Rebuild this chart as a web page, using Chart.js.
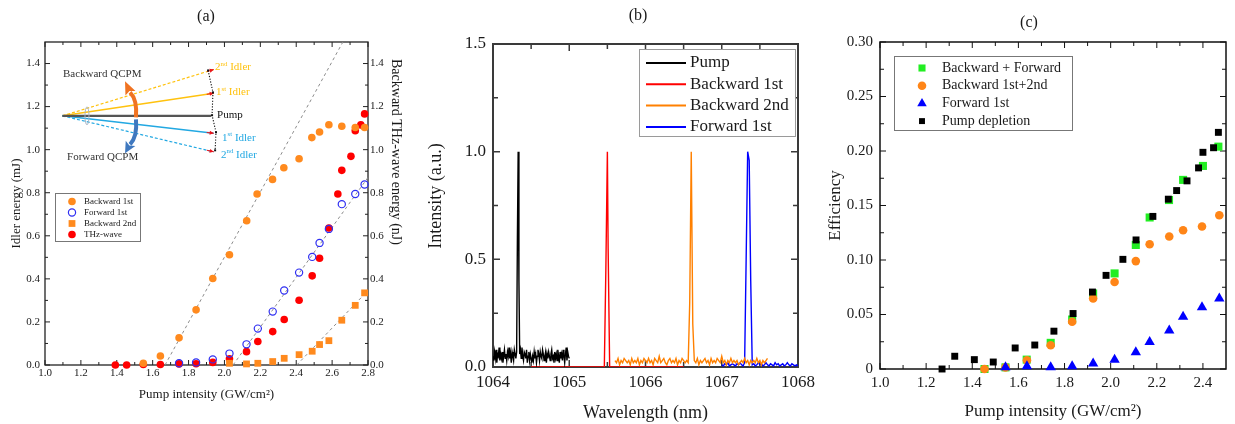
<!DOCTYPE html>
<html>
<head>
<meta charset="utf-8">
<title>QCPM idler energy, spectra and efficiency</title>
<script src="https://cdn.jsdelivr.net/npm/chart.js@4.4.1/dist/chart.umd.min.js"></script>
<style>
  html, body { margin: 0; padding: 0; background: #fff; }
  #wrap { position: relative; width: 1235px; height: 424px; overflow: hidden; }
  #wrap canvas { position: absolute; top: 0; }
</style>
</head>
<body>
<div id="wrap">
  <canvas id="chartA" width="410" height="424" style="left:0"></canvas>
  <canvas id="chartB" width="410" height="424" style="left:410px"></canvas>
  <canvas id="chartC" width="415" height="424" style="left:820px"></canvas>
</div>
<script>
/* global Chart */
const serif = "'Liberation Serif', 'Times New Roman', Times, serif";

// ---------- (a) idler / THz energy vs pump intensity ----------
const aXTicks = [1.0, 1.2, 1.4, 1.6, 1.8, 2.0, 2.2, 2.4, 2.6, 2.8];
const aYTicks = [0.0, 0.2, 0.4, 0.6, 0.8, 1.0, 1.2, 1.4];

const aBwd1X = [1.548, 1.643, 1.747, 1.842, 1.935, 2.028, 2.124, 2.182, 2.268, 2.331, 2.416, 2.487, 2.530, 2.582, 2.654, 2.729, 2.781];
const aBwd1Y = [0.008, 0.042, 0.126, 0.256, 0.402, 0.512, 0.670, 0.794, 0.862, 0.916, 0.958, 1.056, 1.082, 1.116, 1.109, 1.103, 1.103];

const aFwd1X = [1.747, 1.842, 1.935, 2.028, 2.123, 2.186, 2.269, 2.333, 2.416, 2.489, 2.530, 2.582, 2.654, 2.729, 2.781];
const aFwd1Y = [0.008, 0.012, 0.026, 0.053, 0.096, 0.169, 0.248, 0.346, 0.429, 0.502, 0.567, 0.632, 0.747, 0.794, 0.838];

const aBwd2X = [2.028, 2.123, 2.186, 2.269, 2.333, 2.416, 2.489, 2.530, 2.582, 2.654, 2.729, 2.781];
const aBwd2Y = [0.008, 0.005, 0.008, 0.016, 0.031, 0.048, 0.064, 0.095, 0.113, 0.208, 0.277, 0.335];

const aThzX = [1.392, 1.455, 1.548, 1.643, 1.747, 1.842, 1.935, 2.028, 2.123, 2.186, 2.269, 2.333, 2.416, 2.489, 2.530, 2.582, 2.632, 2.654, 2.705, 2.729, 2.760, 2.781];
const aThzY = [0.000, 0.000, 0.002, 0.002, 0.005, 0.006, 0.012, 0.029, 0.062, 0.109, 0.155, 0.211, 0.301, 0.414, 0.496, 0.636, 0.794, 0.904, 0.969, 1.088, 1.115, 1.166];

// linear guide lines (threshold fits)
const aFitBwd1X = [1.669, 2.660], aFitBwd1Y = [0, 1.5];
const aFitFwd1X = [2.048, 2.800], aFitFwd1Y = [0, 0.871];
const aFitBwd2X = [2.403, 2.800], aFitBwd2Y = [0, 0.346];

// ---------- (b) spectra ----------
const bXTicks = [1064, 1065, 1066, 1067, 1068];
const bYTicks = [0.0, 0.5, 1.0, 1.5];

const bPumpStart = 1064.00, bPumpStep = 0.01;
const bPumpInt = [
  0.05, 0.03, 0.07, 0.04, 0.08, 0.02, 0.06, 0.05, 0.09, 0.03,
  0.06, 0.04, 0.07, 0.02, 0.05, 0.08, 0.04, 0.06, 0.03, 0.07,
  0.05, 0.09, 0.04, 0.06, 0.02, 0.07, 0.05, 0.03, 0.08, 0.06,
  0.04, 0.07, 0.60, 1.00, 0.40, 0.06, 0.08, 0.04, 0.09, 0.05,
  0.03, 0.07, 0.06, 0.04, 0.08, 0.02, 0.05, 0.07, 0.03, 0.06,
  0.04, 0.02, 0.05, 0.03, 0.07, 0.04, 0.06, 0.02, 0.05, 0.08,
  0.06, 0.03, 0.07, 0.05, 0.04, 0.08, 0.06, 0.03, 0.05, 0.07,
  0.02, 0.06, 0.04, 0.07, 0.05, 0.03, 0.06, 0.08, 0.04, 0.05,
  0.02, 0.07, 0.04, 0.06, 0.03, 0.08, 0.05, 0.02, 0.07, 0.04,
  0.06, 0.03, 0.08, 0.05, 0.02, 0.06, 0.09, 0.03, 0.07, 0.05, 0.04
];

const bBwd1Wl = [1064.50, 1065.46, 1065.48, 1065.50, 1065.51, 1065.53, 1066.50];
const bBwd1Int = [0, 0, 0.45, 1.00, 0.55, 0, 0];

const bBwd2Start = 1065.60, bBwd2Step = 0.02;
const bBwd2Int = [
  0.03, 0.02, 0.04, 0.01, 0.03, 0.02, 0.04, 0.03, 0.02, 0.03,
  0.01, 0.04, 0.02, 0.03, 0.02, 0.04, 0.01, 0.03, 0.02, 0.04,
  0.03, 0.02, 0.04, 0.02, 0.03, 0.01, 0.04, 0.03, 0.02, 0.05,
  0.02, 0.03, 0.04, 0.02, 0.01, 0.03, 0.04, 0.02, 0.03, 0.02,
  0.04, 0.01, 0.03, 0.02, 0.04, 0.03, 0.02, 0.03, 0.02, 0.30,
  1.00, 0.20, 0.03, 0.02, 0.04, 0.01, 0.03, 0.02, 0.03, 0.04,
  0.02, 0.03, 0.01, 0.04, 0.02, 0.03, 0.02, 0.04, 0.03, 0.02,
  0.05, 0.02, 0.03, 0.01, 0.03, 0.02, 0.04, 0.02, 0.03, 0.02,
  0.03, 0.01, 0.02, 0.03, 0.02, 0.04, 0.02, 0.03, 0.01, 0.03,
  0.02, 0.03, 0.02, 0.04, 0.02, 0.03, 0.01, 0.03, 0.02, 0.03, 0.04
];

const bFwd1Start = 1067.00, bFwd1Step = 0.02;
const bFwd1Int = [
  0.010, 0.005, 0.015, 0.010, 0.020, 0.005, 0.010, 0.015, 0.010, 0.005,
  0.015, 0.010, 0.020, 0.010, 0.005, 0.020, 0.500, 1.000, 0.960, 0.400,
  0.010, 0.015, 0.005, 0.010, 0.020, 0.010, 0.015, 0.005, 0.010, 0.020,
  0.010, 0.005, 0.015, 0.010, 0.005, 0.020, 0.010, 0.015, 0.005, 0.010,
  0.015, 0.005, 0.010, 0.020, 0.010, 0.005, 0.015, 0.010, 0.005, 0.010, 0.005
];

// ---------- (c) efficiency vs pump intensity ----------
const cXTicks = [1.0, 1.2, 1.4, 1.6, 1.8, 2.0, 2.2, 2.4];
const cYTicks = [0, 0.05, 0.10, 0.15, 0.20, 0.25, 0.30];

const cSumX = [1.453, 1.544, 1.636, 1.740, 1.833, 1.924, 2.017, 2.109, 2.169, 2.253, 2.314, 2.400, 2.467];
const cSumY = [0.000, 0.0015, 0.0086, 0.0240, 0.0454, 0.0693, 0.0877, 0.1138, 0.1390, 0.1550, 0.1735, 0.1863, 0.2040];

const cBwdX = [1.453, 1.544, 1.637, 1.740, 1.833, 1.924, 2.017, 2.109, 2.169, 2.254, 2.314, 2.396, 2.471];
const cBwdY = [0.000, 0.0015, 0.0080, 0.0218, 0.0433, 0.0647, 0.0798, 0.0990, 0.1144, 0.1215, 0.1273, 0.1307, 0.1411];

const cFwdX = [1.544, 1.637, 1.740, 1.833, 1.924, 2.017, 2.109, 2.169, 2.254, 2.314, 2.396, 2.471];
const cFwdY = [0.0015, 0.0025, 0.0015, 0.0025, 0.0050, 0.0086, 0.0153, 0.0248, 0.0353, 0.0479, 0.0567, 0.0647];

const cDeplX = [1.269, 1.324, 1.409, 1.491, 1.586, 1.671, 1.754, 1.837, 1.921, 1.980, 2.053, 2.110, 2.183, 2.250, 2.286, 2.331, 2.381, 2.400, 2.446, 2.467];
const cDeplY = [0.000, 0.0117, 0.0086, 0.0064, 0.0193, 0.0220, 0.0347, 0.0509, 0.0706, 0.0859, 0.1006, 0.1184, 0.1400, 0.1558, 0.1637, 0.1726, 0.1845, 0.1988, 0.2030, 0.2171];

// ---------- helpers ----------
const pts = (xs, ys) => xs.map((x, i) => ({ x: x, y: ys[i] }));
const grid = (start, step, vals) => vals.map((y, i) => ({ x: start + i * step, y: y }));
const fixTicks = list => s => { s.ticks = list.map(v => ({ value: v })); };

// box + inward tick marks on all four sides
function frame(o) {
  return {
    id: 'frame',
    beforeDatasetsDraw(chart) {
      const { ctx, chartArea: a } = chart;
      const sx = chart.scales.x, sy = chart.scales.y;
      const marks = (s, sub) => {
        const v = s.ticks.map(t => t.value), out = [];
        v.forEach((val, i) => {
          out.push([val, o.len]);
          if (i < v.length - 1) {
            for (let k = 1; k < sub; k++) out.push([val + (v[i + 1] - val) * k / sub, o.minorLen]);
          }
        });
        return out;
      };
      ctx.save();
      ctx.strokeStyle = o.color;
      ctx.lineWidth = o.tickWidth || 1;
      ctx.beginPath();
      marks(sx, o.xSub).forEach(([v, L]) => {
        const p = sx.getPixelForValue(v);
        ctx.moveTo(p, a.bottom); ctx.lineTo(p, a.bottom - L);
        ctx.moveTo(p, a.top); ctx.lineTo(p, a.top + L);
      });
      marks(sy, o.ySub).forEach(([v, L]) => {
        const p = sy.getPixelForValue(v);
        ctx.moveTo(a.left, p); ctx.lineTo(a.left + L, p);
        ctx.moveTo(a.right, p); ctx.lineTo(a.right - L, p);
      });
      ctx.stroke();
      ctx.lineWidth = o.width;
      ctx.strokeRect(a.left, a.top, a.right - a.left, a.bottom - a.top);
      ctx.restore();
    }
  };
}

// framed legend placed inside the plot
function legendBox(o) {
  return {
    id: 'legendBox',
    afterDraw(chart) {
      const ctx = chart.ctx;
      const items = chart.data.datasets.filter(d => d.label);
      ctx.save();
      ctx.fillStyle = '#fff';
      ctx.fillRect(o.box[0], o.box[1], o.box[2], o.box[3]);
      ctx.strokeStyle = o.border;
      ctx.lineWidth = 1;
      ctx.strokeRect(o.box[0] + 0.5, o.box[1] + 0.5, o.box[2], o.box[3]);
      items.forEach((d, i) => {
        const y = o.firstRow + i * o.rowH;
        if (o.lines) {
          ctx.strokeStyle = d.borderColor;
          ctx.lineWidth = 2;
          ctx.beginPath();
          ctx.moveTo(o.markerX - o.lineLen / 2, y);
          ctx.lineTo(o.markerX + o.lineLen / 2, y);
          ctx.stroke();
        } else {
          ctx.fillStyle = d.pointBackgroundColor;
          ctx.strokeStyle = d.pointBorderColor;
          ctx.lineWidth = d.pointBorderWidth;
          Chart.helpers.drawPoint(ctx, {
            pointStyle: d.pointStyle,
            radius: o.radii ? o.radii[i] : d.pointRadius,
            rotation: 0,
            borderWidth: d.pointBorderWidth
          }, o.markerX, y);
        }
        ctx.fillStyle = '#1a1a1a';
        ctx.font = o.font;
        ctx.textAlign = 'left';
        ctx.textBaseline = 'middle';
        ctx.fillText(d.label, o.textX, y);
      });
      ctx.restore();
    }
  };
}

// free text: panel letters and off-centre axis titles
function texts(list) {
  return {
    id: 'texts',
    afterDraw(chart) {
      const ctx = chart.ctx;
      list.forEach(t => {
        ctx.save();
        ctx.translate(t.x, t.y);
        if (t.rot) ctx.rotate(t.rot * Math.PI / 180);
        ctx.font = t.size + 'px ' + serif;
        ctx.fillStyle = '#1a1a1a';
        ctx.textAlign = 'center';
        ctx.textBaseline = 'middle';
        ctx.fillText(t.text, 0, 0);
        ctx.restore();
      });
    }
  };
}

// QCPM sketch in panel (a), placed in data units
const sketch = {
  origin: [1.097, 1.157],
  pump: [1.926, 1.157],
  bw1: [1.940, 1.262],
  bw2: [1.940, 1.372],
  fw1: [1.940, 1.076],
  fw2: [1.940, 0.990],
  dots: [[1.909, 1.368], [1.936, 1.266], [1.931, 1.160], [1.953, 1.081], [1.948, 0.997]],
  lens: [1.234, 1.157],
  bwArc: [[1.507, 1.150], [1.515, 1.232], [1.474, 1.266], [1.446, 1.318]],
  fwArc: [[1.507, 1.141], [1.515, 1.060], [1.474, 1.025], [1.446, 0.983]]
};
const yellow = '#FFC20E', cyan = '#22A8E2';

function supText(ctx, x, y, parts, size, color) {
  ctx.fillStyle = color;
  ctx.textBaseline = 'middle';
  ctx.textAlign = 'left';
  let cx = x;
  parts.forEach(([s, sup]) => {
    const fs = sup ? size * 0.62 : size;
    ctx.font = fs + 'px ' + serif;
    ctx.fillText(s, cx, sup ? y - size * 0.33 : y);
    cx += ctx.measureText(s).width;
  });
}

const qcpmSketch = {
  id: 'qcpmSketch',
  afterDatasetsDraw(chart) {
    const ctx = chart.ctx, X = chart.scales.x, Y = chart.scales.y;
    const P = p => [X.getPixelForValue(p[0]), Y.getPixelForValue(p[1])];
    const o = P(sketch.origin);
    ctx.save();
    const ray = (end, color, dash, w, tip) => {
      const e = P(end);
      ctx.save();
      ctx.strokeStyle = color; ctx.lineWidth = w; ctx.setLineDash(dash);
      ctx.beginPath(); ctx.moveTo(o[0], o[1]); ctx.lineTo(e[0], e[1]); ctx.stroke();
      ctx.restore();
      if (tip) {
        const ang = Math.atan2(e[1] - o[1], e[0] - o[0]);
        ctx.save();
        ctx.translate(e[0], e[1]); ctx.rotate(ang);
        ctx.fillStyle = '#E8141B'; ctx.strokeStyle = '#E8141B'; ctx.lineWidth = 1;
        ctx.beginPath(); ctx.moveTo(-7, 0); ctx.lineTo(0, 0); ctx.stroke();
        ctx.beginPath(); ctx.moveTo(0, 0); ctx.lineTo(-4, -2); ctx.lineTo(-4, 2); ctx.closePath(); ctx.fill();
        ctx.restore();
      }
    };
    ray(sketch.bw2, yellow, [3, 2], 1.2, true);
    ray(sketch.bw1, yellow, [], 1.5, true);
    ray(sketch.fw2, cyan, [3, 2], 1.2, true);
    ray(sketch.fw1, cyan, [], 1.5, true);
    ray(sketch.pump, '#555', [], 2.2, false);

    // lens
    const l = P(sketch.lens);
    ctx.strokeStyle = '#A8B4C4'; ctx.lineWidth = 1;
    ctx.beginPath(); ctx.ellipse(l[0], l[1], 2, 9, 0, 0, Math.PI * 2); ctx.stroke();

    // dotted energy ladder
    ctx.save();
    ctx.strokeStyle = '#111'; ctx.lineWidth = 1.1; ctx.setLineDash([1.2, 1.6]);
    ctx.beginPath();
    sketch.dots.forEach((d, i) => { const p = P(d); if (i) ctx.lineTo(p[0], p[1]); else ctx.moveTo(p[0], p[1]); });
    ctx.stroke();
    ctx.restore();
    ctx.fillStyle = '#111';
    sketch.dots.forEach(d => { const p = P(d); ctx.fillRect(p[0] - 1, p[1] - 1, 2, 2); });

    // curved arrows
    const arc = (a, color) => {
      const s = P(a[0]), c = P(a[1]), e = P(a[2]), t = P(a[3]);
      ctx.save();
      ctx.strokeStyle = color; ctx.lineWidth = 4;
      ctx.beginPath(); ctx.moveTo(s[0], s[1]); ctx.quadraticCurveTo(c[0], c[1], e[0], e[1]); ctx.stroke();
      const ang = Math.atan2(t[1] - e[1], t[0] - e[0]);
      const len = Math.hypot(t[0] - e[0], t[1] - e[1]);
      ctx.translate(e[0], e[1]); ctx.rotate(ang);
      ctx.fillStyle = color;
      ctx.beginPath(); ctx.moveTo(len, 0); ctx.lineTo(-1, -5.5); ctx.lineTo(1.5, 0); ctx.lineTo(-1, 5.5); ctx.closePath(); ctx.fill();
      ctx.restore();
    };
    arc(sketch.bwArc, '#F07322');
    arc(sketch.fwArc, '#3F78BF');

    // labels
    const T = (xy, parts, color) => { const p = P(xy); supText(ctx, p[0], p[1], parts, 11, color); };
    T([1.100, 1.350], [['Backward QCPM', false]], '#333');
    T([1.123, 0.965], [['Forward QCPM', false]], '#333');
    T([1.948, 1.382], [['2', false], ['nd', true], [' Idler', false]], yellow);
    T([1.953, 1.266], [['1', false], ['st', true], [' Idler', false]], yellow);
    T([1.959, 1.160], [['Pump', false]], '#111');
    T([1.987, 1.053], [['1', false], ['st', true], [' Idler', false]], cyan);
    T([1.981, 0.974], [['2', false], ['nd', true], [' Idler', false]], cyan);
    ctx.restore();
  }
};

Chart.defaults.font.family = serif;
Chart.defaults.color = '#1a1a1a';

function base(extra) {
  return Object.assign({
    responsive: false,
    animation: false,
    events: [],
    plugins: { legend: { display: false }, tooltip: { enabled: false }, title: { display: false } }
  }, extra);
}
const noGrid = { display: false, drawTicks: false };
const noBorder = { display: false };

// ---------- chart (a) ----------
const marker = (color, style, r, open) => ({
  pointStyle: style,
  pointRadius: r,
  pointBackgroundColor: open ? 'rgba(0,0,0,0)' : color,
  pointBorderColor: color,
  pointBorderWidth: open ? 1.2 : 0,
  clip: false
});
const guide = (xs, ys) => ({
  data: pts(xs, ys), showLine: true, pointRadius: 0,
  borderColor: '#8c8c8c', borderWidth: 1, borderDash: [3, 3], order: 10
});

new Chart(document.getElementById('chartA'), {
  type: 'scatter',
  data: {
    datasets: [
      Object.assign({ label: 'Backward 1st', data: pts(aBwd1X, aBwd1Y) }, marker('#FF8A1E', 'circle', 3.8)),
      Object.assign({ label: 'Forward 1st', data: pts(aFwd1X, aFwd1Y) }, marker('#2F2FF2', 'circle', 3.6, true)),
      Object.assign({ label: 'Backward 2nd', data: pts(aBwd2X, aBwd2Y) }, marker('#FF8A1E', 'rect', 4.8)),
      Object.assign({ label: 'THz-wave', data: pts(aThzX, aThzY), yAxisID: 'y2' }, marker('#FF0000', 'circle', 3.8)),
      guide(aFitBwd1X, aFitBwd1Y),
      guide(aFitFwd1X, aFitFwd1Y),
      guide(aFitBwd2X, aFitBwd2Y)
    ]
  },
  options: base({
    layout: { padding: { top: 42, right: 0, left: 0, bottom: 0 } },
    scales: {
      x: {
        type: 'linear', min: 1.0, max: 2.8,
        afterBuildTicks: fixTicks(aXTicks), afterFit: s => { s.height = 59; },
        grid: noGrid, border: noBorder,
        ticks: { font: { size: 11 }, padding: 2, maxRotation: 0, autoSkip: false, callback: v => v.toFixed(1) },
        title: { display: true, text: 'Pump intensity (GW/cm²)', font: { size: 13, lineHeight: 1 }, padding: { top: 0, bottom: 22.5 } }
      },
      y: {
        position: 'left', min: 0, max: 1.5,
        afterBuildTicks: fixTicks(aYTicks), afterFit: s => { s.width = 45; },
        grid: noGrid, border: noBorder,
        ticks: { font: { size: 11 }, padding: 5, autoSkip: false, callback: v => v.toFixed(1) },
        title: { display: true, text: 'Idler energy (mJ)', font: { size: 13, lineHeight: 1 }, padding: { top: 10, bottom: 0 } }
      },
      y2: {
        position: 'right', min: 0, max: 1.5,
        afterBuildTicks: fixTicks(aYTicks), afterFit: s => { s.width = 42; },
        grid: noGrid, border: noBorder,
        ticks: { font: { size: 11 }, padding: 2, autoSkip: false, callback: v => v.toFixed(1) }
      }
    }
  }),
  plugins: [
    frame({ color: '#222', width: 1.3, len: 5, minorLen: 3, xSub: 2, ySub: 2 }),
    qcpmSketch,
    legendBox({ box: [55, 193, 85, 48], firstRow: 201.5, rowH: 11, markerX: 72, textX: 84, font: '9px ' + serif, border: '#777' }),
    texts([
      { text: '(a)', x: 206, y: 17, size: 16 },
      { text: 'Backward THz-wave energy (nJ)', x: 396, y: 152, size: 14, rot: 90 }
    ])
  ]
});

// ---------- chart (b) ----------
const trace = (label, data, color) => ({
  label: label, data: data, showLine: true, pointRadius: 0,
  borderColor: color, borderWidth: 1.4
});

new Chart(document.getElementById('chartB'), {
  type: 'scatter',
  data: {
    datasets: [
      trace('Pump', grid(bPumpStart, bPumpStep, bPumpInt), '#000000'),
      trace('Backward 1st', pts(bBwd1Wl, bBwd1Int), '#FF0000'),
      trace('Backward 2nd', grid(bBwd2Start, bBwd2Step, bBwd2Int), '#FF8000'),
      trace('Forward 1st', grid(bFwd1Start, bFwd1Step, bFwd1Int), '#0000FF')
    ]
  },
  options: base({
    layout: { padding: { top: 44, right: 19, left: 0, bottom: 0 } },
    scales: {
      x: {
        type: 'linear', min: 1064, max: 1068,
        afterBuildTicks: fixTicks(bXTicks), afterFit: s => { s.height = 57; },
        grid: noGrid, border: noBorder,
        ticks: { font: { size: 17 }, padding: 5, maxRotation: 0, autoSkip: false, callback: v => String(v) },
        title: { display: true, text: 'Wavelength (nm)', font: { size: 18, lineHeight: 1 }, padding: { top: 0, bottom: 2 } }
      },
      y: {
        min: 0, max: 1.5,
        afterBuildTicks: fixTicks(bYTicks), afterFit: s => { s.width = 83; },
        grid: noGrid, border: noBorder,
        ticks: { font: { size: 17 }, padding: 7, autoSkip: false, callback: v => v.toFixed(1) }
      }
    }
  }),
  plugins: [
    frame({ color: '#3a3a3a', width: 2, len: 7, minorLen: 5, xSub: 2, ySub: 2, tickWidth: 1.5 }),
    legendBox({ box: [229, 49, 156, 87], firstRow: 63, rowH: 21.3, markerX: 256, lineLen: 40, lines: true, textX: 280, font: '17px ' + serif, border: '#9a9a9a' }),
    texts([
      { text: '(b)', x: 228, y: 16, size: 16 },
      { text: 'Intensity (a.u.)', x: 26, y: 196, size: 18, rot: -90 }
    ])
  ]
});

// ---------- chart (c) ----------
new Chart(document.getElementById('chartC'), {
  type: 'scatter',
  data: {
    datasets: [
      Object.assign({ label: 'Backward + Forward', data: pts(cSumX, cSumY), order: 3 }, marker('#22EE22', 'rect', 5.7)),
      Object.assign({ label: 'Backward 1st+2nd', data: pts(cBwdX, cBwdY), order: 2 }, marker('#FF8517', 'circle', 4.3)),
      Object.assign({ label: 'Forward 1st', data: pts(cFwdX, cFwdY), order: 1 }, marker('#0000FF', 'triangle', 6)),
      Object.assign({ label: 'Pump depletion', data: pts(cDeplX, cDeplY), order: 0 }, marker('#000000', 'rect', 4.9))
    ]
  },
  options: base({
    layout: { padding: { top: 42, right: 9, left: 0, bottom: 0 } },
    scales: {
      x: {
        type: 'linear', min: 1.0, max: 2.5,
        afterBuildTicks: fixTicks(cXTicks), afterFit: s => { s.height = 55; },
        grid: noGrid, border: noBorder,
        ticks: { font: { size: 15 }, padding: 5, maxRotation: 0, autoSkip: false, callback: v => v.toFixed(1) },
        title: { display: true, text: 'Pump intensity (GW/cm²)', font: { size: 17, lineHeight: 1 }, padding: { top: 0, bottom: 3.5 } }
      },
      y: {
        min: 0, max: 0.30,
        afterBuildTicks: fixTicks(cYTicks), afterFit: s => { s.width = 60; },
        grid: noGrid, border: noBorder,
        ticks: { font: { size: 15 }, padding: 7, autoSkip: false, callback: v => (v === 0 ? '0' : v.toFixed(2)) },
        title: { display: true, text: 'Efficiency', font: { size: 17, lineHeight: 1 }, padding: { top: 7.5, bottom: 0 } }
      }
    }
  }),
  plugins: [
    frame({ color: '#111', width: 1.5, len: 6, minorLen: 4, xSub: 2, ySub: 2 }),
    legendBox({ box: [74, 56, 178, 74], firstRow: 68, rowH: 17.7, markerX: 102, textX: 122, font: '14px ' + serif, border: '#777', radii: [5, 4.3, 5.5, 4.2] }),
    texts([
      { text: '(c)', x: 209, y: 23, size: 16 }
    ])
  ]
});
</script>
</body>
</html>
